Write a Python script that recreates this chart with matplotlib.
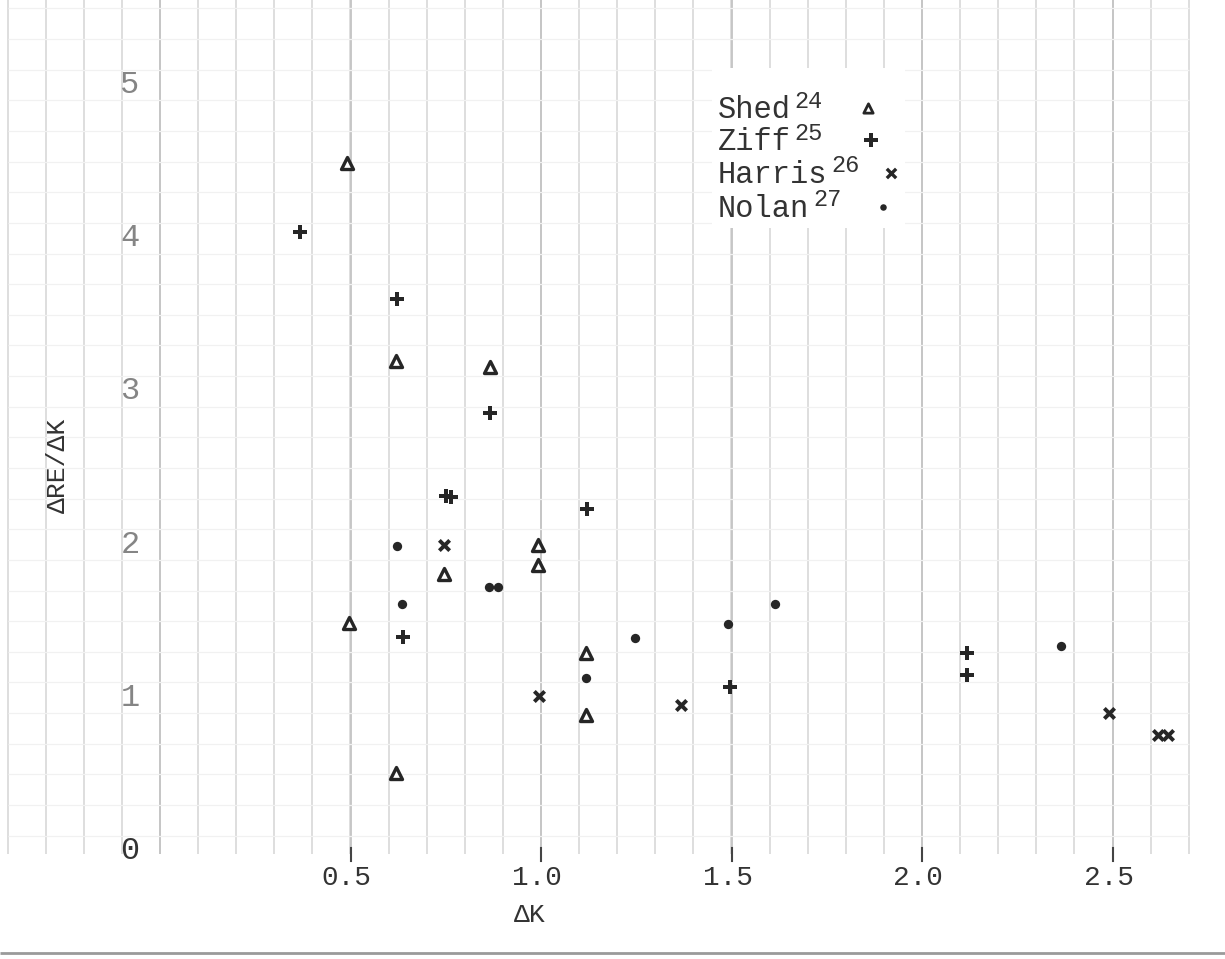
import matplotlib
matplotlib.use("Agg")
import matplotlib.pyplot as plt
import numpy as np
from matplotlib.patches import Rectangle

# ---- data ----
shed_x = [0.491, 0.619, 0.866, 0.745, 0.992, 0.992, 0.496, 0.619, 1.118, 1.118]
shed_y = [4.49, 3.20, 3.16, 1.81, 2.00, 1.87, 1.49, 0.51, 1.29, 0.89]

ziff_x = [0.367, 0.622, 0.866, 0.750, 0.765, 1.121, 0.638, 1.496, 2.118, 2.118]
ziff_y = [4.04, 3.60, 2.86, 2.32, 2.31, 2.23, 1.40, 1.07, 1.29, 1.15]

harris_x = [0.745, 0.995, 1.367, 2.491, 2.619, 2.646]
harris_y = [2.00, 1.01, 0.95, 0.90, 0.76, 0.76]

nolan_x = [0.622, 0.635, 0.864, 0.887, 1.118, 1.247, 1.491, 1.614, 2.365]
nolan_y = [1.99, 1.61, 1.72, 1.72, 1.13, 1.39, 1.48, 1.61, 1.34]

x_ticks = [0.5, 1.0, 1.5, 2.0, 2.5]
x_tick_labels = ["0.5", "1.0", "1.5", "2.0", "2.5"]
y_ticks = [0, 1, 2, 3, 4, 5]
y_tick_labels = ["0", "1", "2", "3", "4", "5"]

legend_names = ["Shed", "Ziff", "Harris", "Nolan"]
legend_refs = ["24", "25", "26", "27"]

# ---- figure ----
W, H = 1225, 959
fig = plt.figure(figsize=(W / 100, H / 100), dpi=100)
ax = fig.add_axes([0, 0, 1, 1])
x0px, xscale = 160.0, 381.0
y0px, yscale = 851.0, 153.2
ax.set_xlim((0 - x0px) / xscale, (W - x0px) / xscale)
ax.set_ylim((y0px - H) / yscale, y0px / yscale)
ax.axis("off")

mono = "Liberation Mono"
ytop = y0px / yscale

# graph-paper grid
gx = np.arange(-0.4, 2.75, 0.1)
ax.vlines(gx, -0.02, ytop, color="#d4d4d4", lw=1.1, zorder=0)
ax.vlines([0.0, 0.5, 1.0, 1.5, 2.0, 2.5], -0.02, ytop, color="#c4c4c4", lw=1.3, zorder=0)
gy = np.arange(0.1, 5.6, 0.2)
ax.hlines(gy, gx[0], gx[-1], color="#f1f1f1", lw=0.9, zorder=0)
# scan edge at bottom
ax.hlines([(y0px - 953) / yscale], -0.42, 2.8, color="#9a9a9a", lw=2.0, zorder=0)

# white patch behind legend
lx0 = (712 - x0px) / xscale
lx1 = (905 - x0px) / xscale
ly0 = (y0px - 228) / yscale
ly1 = (y0px - 68) / yscale
ax.add_patch(Rectangle((lx0, ly0), lx1 - lx0, ly1 - ly0, facecolor="white",
                       edgecolor="none", zorder=1))

# ---- data marks ----
dark = "#262626"
ax.scatter(shed_x, shed_y, marker="^", s=75, facecolor="white", edgecolor=dark,
           linewidths=2.4, zorder=3)
ax.scatter(ziff_x, ziff_y, marker="P", s=110, color=dark, linewidths=0, zorder=3)
ax.scatter(harris_x, harris_y, marker="x", s=55, color=dark, linewidths=2.8, zorder=3)
ax.scatter(nolan_x, nolan_y, marker="o", s=45, color=dark, linewidths=0, zorder=3)

# ---- axes text ----
tick_y = (y0px - 856) / yscale
for xt, lab in zip(x_ticks, x_tick_labels):
    ax.plot([xt, xt], [tick_y - 0.03, tick_y + 0.05], color="#444444", lw=1.5, zorder=2)
    ax.text(xt - 0.01, (y0px - 878) / yscale, lab, fontsize=20, family=mono,
            color="#333333", ha="center", va="center", zorder=4)
for yt, lab in zip(y_ticks, y_tick_labels):
    ax.text((130 - x0px) / xscale, yt, lab, fontsize=23, family=mono,
            color="#858585" if yt > 0 else "#333333", ha="center", va="center", zorder=4)

ax.text((530 - x0px) / xscale, (y0px - 915) / yscale, "ΔK", fontsize=19,
        family=mono, color="#333333", ha="center", va="center", zorder=4)
ax.text((58 - x0px) / xscale, (y0px - 465) / yscale, "ΔRE/ΔK", fontsize=19,
        family=mono, color="#333333", ha="center", va="center", rotation=90, zorder=4)

# ---- legend ----
leg_rows_px = [110, 142, 175, 209]
marker_px = [868, 871, 891, 883]
markers = ["^", "P", "x", "o"]
for name, ref, rpx, mpx, mk in zip(legend_names, legend_refs, leg_rows_px, marker_px, markers):
    yy = (y0px - rpx) / yscale
    ax.text((718 - x0px) / xscale, yy, name, fontsize=22, family=mono,
            color="#333333", ha="left", va="center", zorder=4)
    sx = 718 + 18.4 * len(name) + 3
    ax.text((sx - x0px) / xscale, (y0px - (rpx - 9)) / yscale, ref, fontsize=17,
            family=mono, color="#333333", ha="left", va="center", zorder=4)
    mxd = (mpx - x0px) / xscale
    yyc = (y0px - (rpx - 2)) / yscale
    if mk == "^":
        ax.scatter([mxd], [yyc], marker="^", s=45, facecolor="white", edgecolor=dark,
                   linewidths=2.0, zorder=4)
    elif mk == "P":
        ax.scatter([mxd], [yyc], marker="P", s=90, color=dark, linewidths=0, zorder=4)
    elif mk == "x":
        ax.scatter([mxd], [yyc], marker="x", s=45, color=dark, linewidths=2.4, zorder=4)
    else:
        ax.scatter([mxd], [yyc], marker="o", s=22, color=dark, linewidths=0, zorder=4)

fig.savefig("out.png", dpi=100, facecolor="white")
